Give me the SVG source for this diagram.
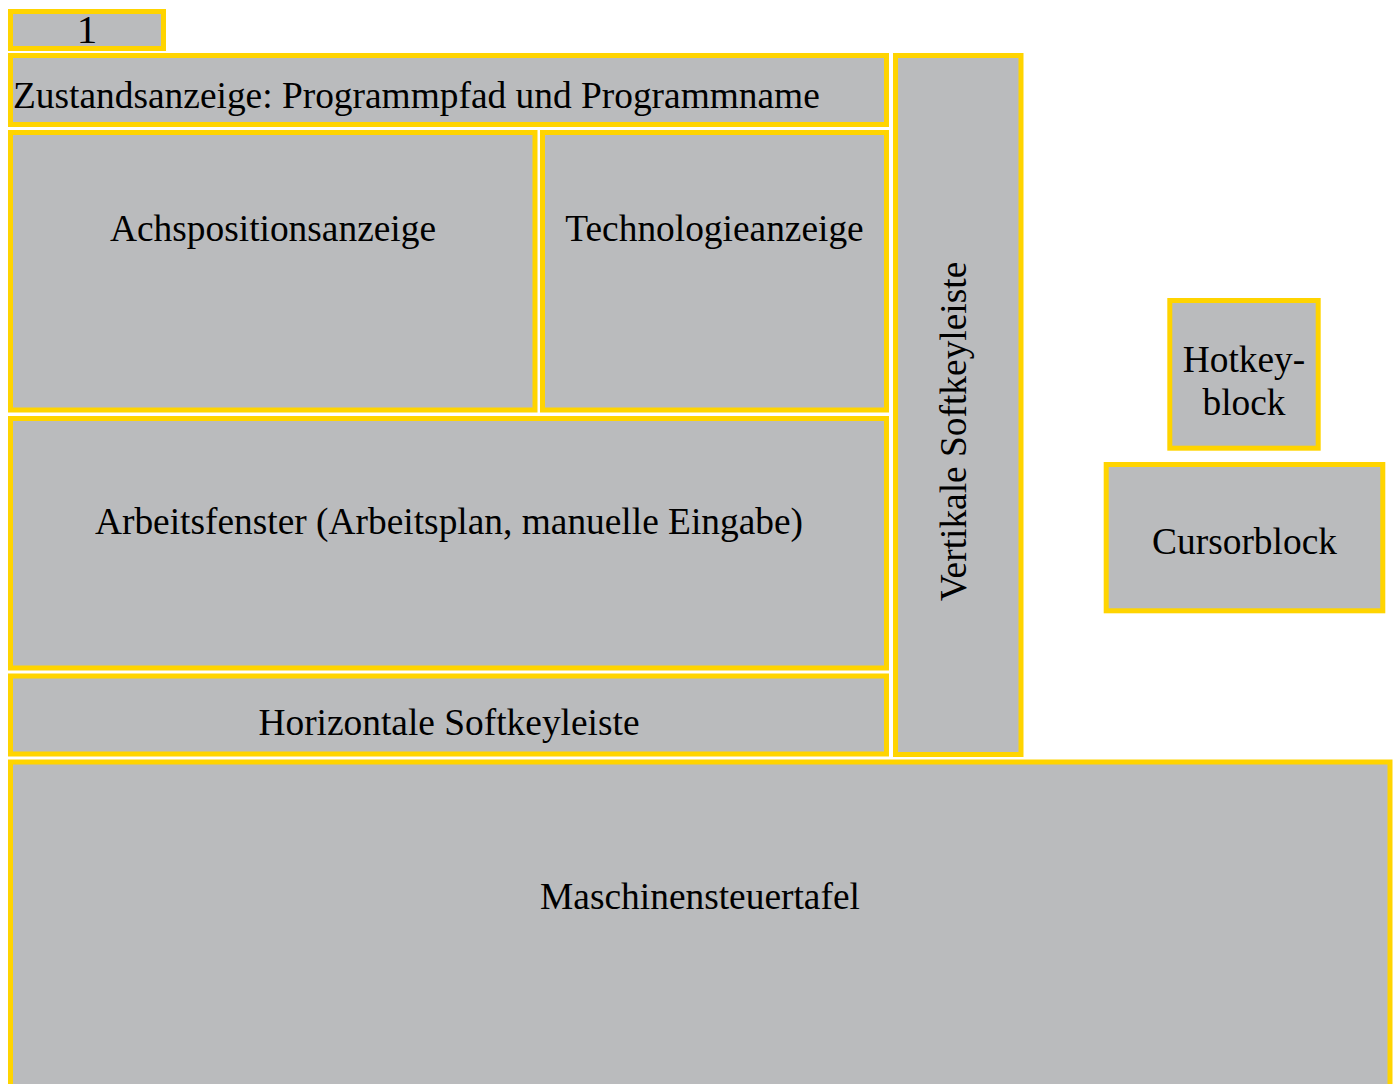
<svg xmlns="http://www.w3.org/2000/svg" width="1397" height="1084" viewBox="0 0 1397 1084">
<style>
.box{fill:#BABBBD;stroke:#FFD400;stroke-width:5}
.t{font-family:"Liberation Serif","Times New Roman",serif;font-size:37.4px;fill:#000}
.m{text-anchor:middle}
</style>
<rect width="1397" height="1084" fill="#FFFFFF"/>
<g id="box-1">
<rect class="box" x="10.5" y="11.5" width="153" height="37"/>
<text class="t m" x="87" y="43" style="font-size:41px">1</text>
</g>
<g id="zustandsanzeige">
<rect class="box" x="10.5" y="55.5" width="876" height="69"/>
<text class="t" x="13" y="107.5">Zustandsanzeige: Programmpfad und Programmname</text>
</g>
<g id="achspositionsanzeige">
<rect class="box" x="10.5" y="132.5" width="524.5" height="277.5"/>
<text class="t m" x="273" y="241">Achspositionsanzeige</text>
</g>
<g id="technologieanzeige">
<rect class="box" x="542.5" y="132.5" width="344" height="277.5"/>
<text class="t m" x="714.5" y="241">Technologieanzeige</text>
</g>
<g id="arbeitsfenster">
<rect class="box" x="10.5" y="418.5" width="876" height="249.5"/>
<text class="t m" x="449" y="534">Arbeitsfenster (Arbeitsplan, manuelle Eingabe)</text>
</g>
<g id="horizontale-softkeyleiste">
<rect class="box" x="10.5" y="676" width="876" height="78"/>
<text class="t m" x="449" y="735">Horizontale Softkeyleiste</text>
</g>
<g id="vertikale-softkeyleiste">
<rect class="box" x="895.5" y="55.5" width="125.5" height="699"/>
<text class="t m" transform="translate(966 431.5) rotate(-90)" x="0" y="0">Vertikale Softkeyleiste</text>
</g>
<g id="maschinensteuertafel">
<rect class="box" x="10.5" y="762" width="1379.5" height="340"/>
<text class="t m" x="700" y="909">Maschinensteuertafel</text>
</g>
<g id="hotkeyblock">
<rect class="box" x="1169.8" y="300.5" width="148.4" height="147.7"/>
<text class="t m" x="1244" y="372">Hotkey-</text>
<text class="t m" x="1244" y="415">block</text>
</g>
<g id="cursorblock">
<rect class="box" x="1106.2" y="464.5" width="276.6" height="146.3"/>
<text class="t m" x="1244.5" y="554">Cursorblock</text>
</g>
<g id="connectors"></g>
</svg>
